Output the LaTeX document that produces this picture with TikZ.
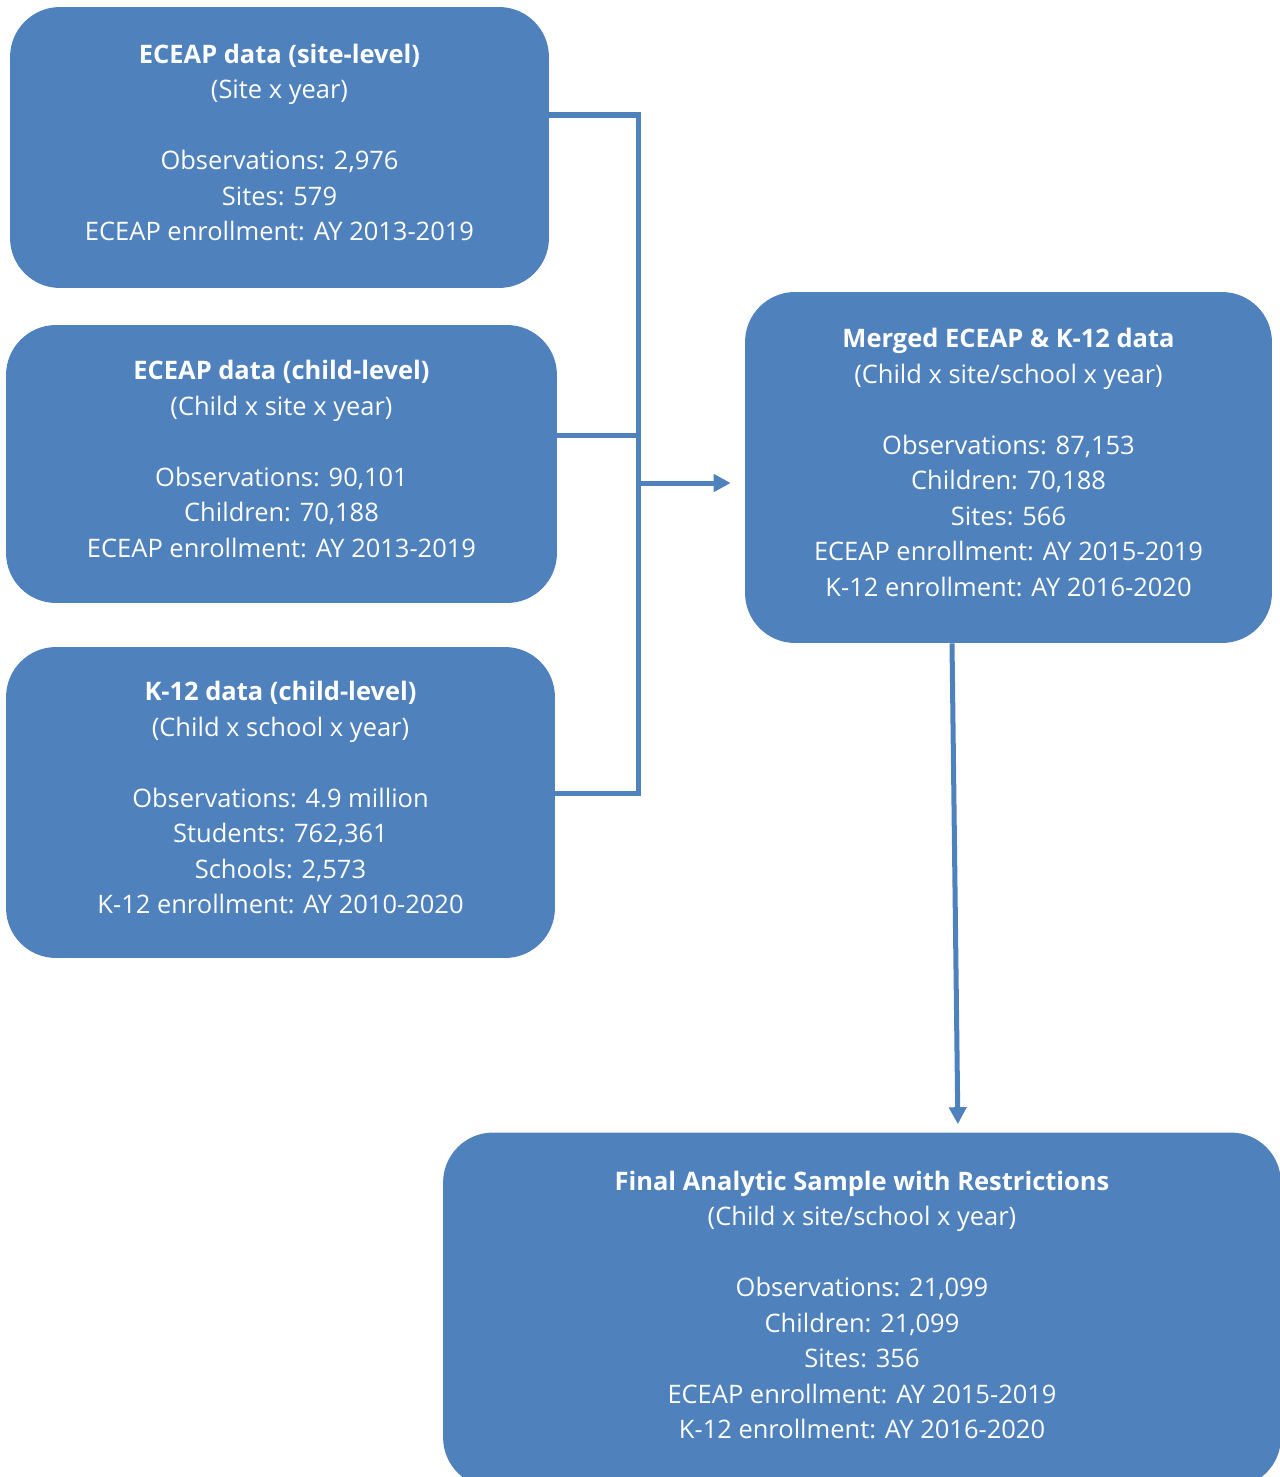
\documentclass[tikz,border=0pt]{standalone}
\usepackage{fontspec}
\setmainfont{Open Sans}
\usepackage{xcolor}
\usepackage{tikz}
\usetikzlibrary{arrows.meta, positioning, calc}
\definecolor{boxblue}{RGB}{79,129,189}

\begin{document}
\begin{tikzpicture}[x=0.02cm, y=-0.02cm,
    databox/.style={fill=boxblue, draw=none, rounded corners=1cm, text=white,
        align=center, font=\fontsize{14.5}{20.2}\selectfont, inner sep=0pt, text depth=0.2cm},
    link/.style={draw=boxblue, line width=2.85pt},
    flow/.style={link, -{Triangle[length=0.34cm, width=0.34cm]}}]
    \useasboundingbox (0,0) rectangle (1280,1477);

    % Source data boxes
    \node[databox, minimum width=10.78cm, minimum height=5.62cm] (site) at (279.5,147.5)
        {\textbf{ECEAP data (site-level)}\\(Site x year)\\[20.2pt]Observations: 2,976\\Sites: 579\\ECEAP enrollment: AY 2013-2019};
    \node[databox, minimum width=11.02cm, minimum height=5.56cm] (child) at (281.5,464)
        {\textbf{ECEAP data (child-level)}\\(Child x site x year)\\[20.2pt]Observations: 90,101\\Children: 70,188\\ECEAP enrollment: AY 2013-2019};
    \node[databox, minimum width=10.98cm, minimum height=6.22cm] (kdata) at (280.5,802.5)
        {\textbf{K-12 data (child-level)}\\(Child x school x year)\\[20.2pt]Observations: 4.9 million\\Students: 762,361\\Schools: 2,573\\K-12 enrollment: AY 2010-2020};

    % Merged and final
    \node[databox, minimum width=10.54cm, minimum height=7.02cm] (merged) at (1008.5,467.5)
        {\textbf{Merged ECEAP \& K-12 data}\\(Child x site/school x year)\\[20.2pt]Observations: 87,153\\Children: 70,188\\Sites: 566\\ECEAP enrollment: AY 2015-2019\\K-12 enrollment: AY 2016-2020};
    \node[databox, minimum width=16.76cm, minimum height=7.10cm] (final) at (862,1310)
        {\textbf{Final Analytic Sample with Restrictions}\\(Child x site/school x year)\\[20.2pt]Observations: 21,099\\Children: 21,099\\Sites: 356\\ECEAP enrollment: AY 2015-2019\\K-12 enrollment: AY 2016-2020};

    % Bus between the sources
    \coordinate (bustop) at (638,115);
    \coordinate (busmid) at (638,435);
    \coordinate (busbot) at (638,793);
    \coordinate (busout) at (638,483);
    \draw[link] (site.east |- bustop) -- (bustop) -- (busbot) -- (kdata.east |- busbot);
    \draw[link] (child.east |- busmid) -- (busmid);
    \draw[flow, shorten >=0.28cm] (busout) -- (busout -| merged.west);
    \draw[flow, shorten >=0.16cm] ([xshift=-1.13cm]merged.south) -- ([xshift=1.92cm]final.north);
\end{tikzpicture}
\end{document}
